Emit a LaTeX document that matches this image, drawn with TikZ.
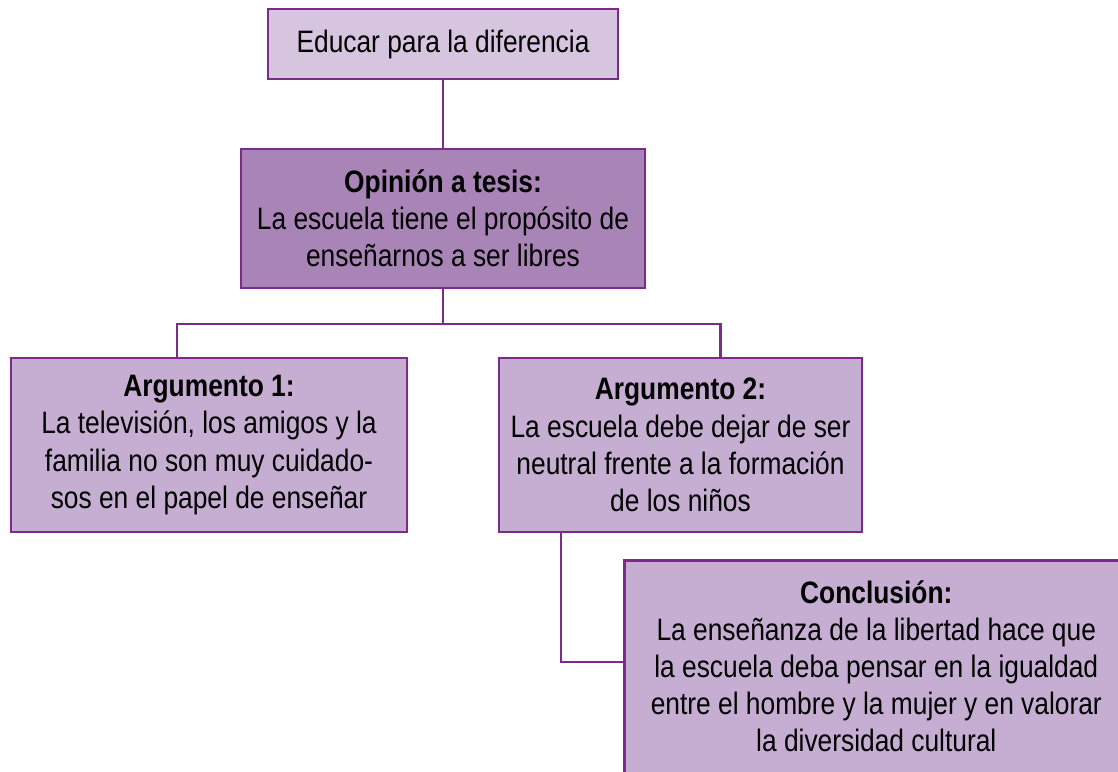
\documentclass[tikz,border=0pt]{standalone}
\usepackage{fontspec}
\setmainfont{Liberation Sans}[FakeStretch=0.85]
\definecolor{borde}{HTML}{7B2C8A}
\definecolor{lila}{HTML}{D7C5E0}
\definecolor{malva}{HTML}{A984B7}
\definecolor{lavanda}{HTML}{C6AED2}
\tikzset{
    caja/.style={draw=borde, line width=1.3pt, fill=lavanda, align=center,
        font=\fontsize{15.5}{18.6}\selectfont, inner sep=0pt},
    enlace/.style={draw=borde, line width=1.1pt},
}
\begin{document}
\begin{tikzpicture}[x=0.5pt, y=-0.5pt]
    \useasboundingbox (0,0) rectangle (1118,771);
    \clip (0,0) rectangle (1118,771);

    \node[caja, fill=lila, minimum width=175pt, minimum height=35pt] (tema) at (443,44)
        {Educar para la diferencia};
    \node[caja, fill=malva, minimum width=202pt, minimum height=69.5pt] (tesis) at (443,218.5)
        {\textbf{Opinión a tesis:}\\La escuela tiene el propósito de\\enseñarnos a ser libres};

    \node[caja, minimum width=198pt, minimum height=87pt] (arg1) at (209,445)
        {\textbf{Argumento 1:}\\La televisión, los amigos y la\\familia no son muy cuidado-\\sos en el papel de enseñar};
    \node[caja, minimum width=181.5pt, minimum height=87pt] (arg2) at (680.5,445)
        {\textbf{Argumento 2:}\\La escuela debe dejar de ser\\neutral frente a la formación\\de los niños};

    % the box runs on past the right and bottom edges
    \node[caja, align=none, anchor=north west, inner ysep=10pt] (concl) at (623,559)
        {\parbox[t]{252pt}{\centering\textbf{Conclusión:}\\La enseñanza de la libertad hace que\\la escuela deba pensar en la igualdad\\entre el hombre y la mujer y en valorar\\la diversidad cultural\par\vspace{20pt}}\hspace*{40pt}};

    \draw[enlace] (tema.south) -- (tesis.north);
    \draw[enlace] (tesis.south) -- ++(0,35) coordinate (bif);
    \draw[enlace] (bif) -| ([xshift=-16pt]arg1.north);
    \draw[enlace] (bif) -| ([xshift=20pt]arg2.north);
    \draw[enlace] ([xshift=31.5pt]arg2.south west) |- ([yshift=-51.5pt]concl.north west);
\end{tikzpicture}
\end{document}
